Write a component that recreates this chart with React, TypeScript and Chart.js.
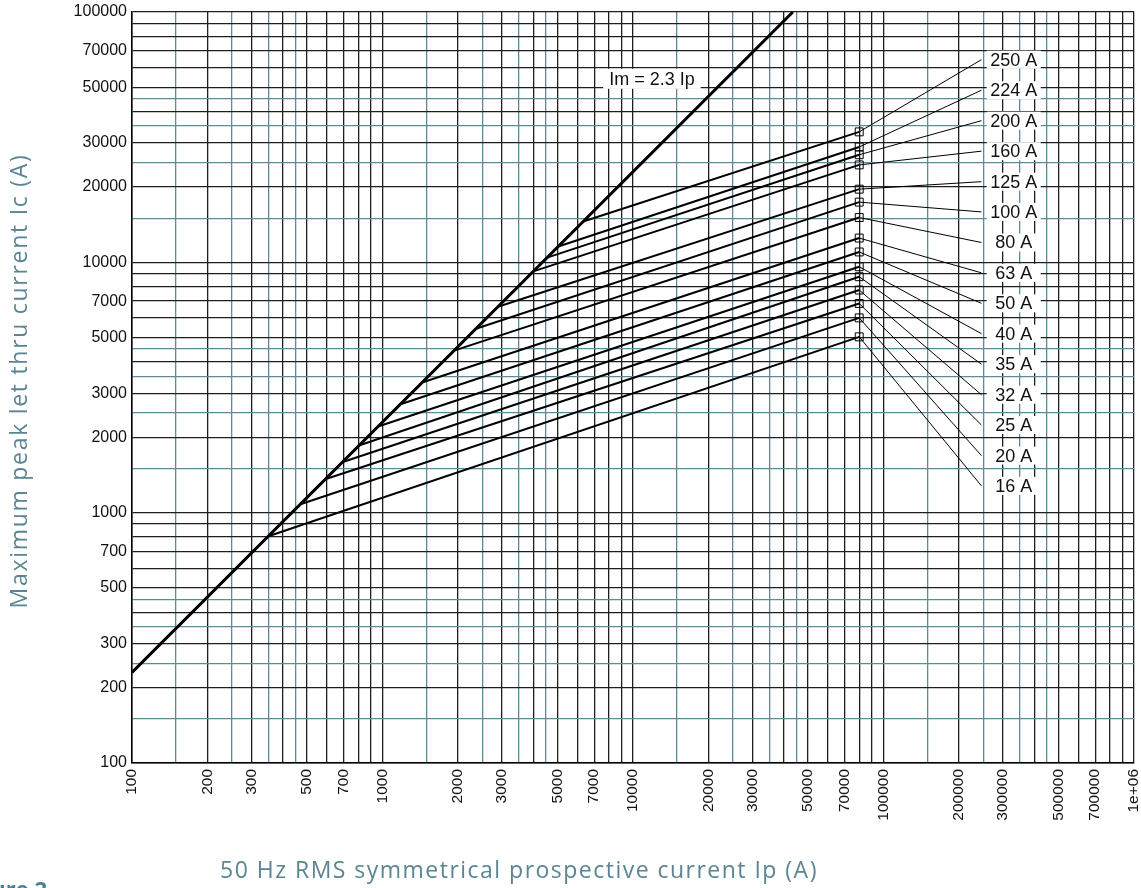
import { useEffect, useRef } from 'react';
import { Chart, registerables } from 'chart.js';

Chart.register(...registerables);

// ---- Data ----
const ratingLabels = ['250 A', '224 A', '200 A', '160 A', '125 A', '100 A', '80 A', '63 A', '50 A', '40 A', '35 A', '32 A', '25 A', '20 A', '16 A'];
// start of each cut-off line, on the Im = 2.3 Ip line
const ratingStartIp = [6330, 5030, 4540, 4000, 2890, 2360, 1930, 1440, 1180, 960, 810, 690, 590, 470, 350];
const ratingStartIc = [14560, 11570, 10440, 9200, 6650, 5430, 4440, 3310, 2710, 2210, 1860, 1590, 1360, 1080, 805];
// end of each cut-off line (square marker)
const ratingEndIp = 80000;
const ratingEndIc = [33200, 28900, 26900, 24500, 19600, 17400, 15100, 12500, 11000, 9600, 8760, 7750, 6850, 6000, 5040];
// label positions (leader-line end and label text)
const leaderEndIp = 246000;
const labelTextIp = 331000;
const labelIc = [64500, 48700, 36800, 27800, 21000, 15900, 12000, 9080, 6860, 5190, 3920, 2960, 2240, 1690, 1280];

// Im = 2.3 Ip limit line
const imLineIp = [100, 43480];
const imLineIc = [230, 100000];
const imLabel = 'Im = 2.3 Ip';
const imLabelIp = 11900;
const imLabelIc = 54100;

// ---- Axes ----
const xDecades = [100, 1000, 10000, 100000];
const yDecades = [100, 1000, 10000];
const blackMultipliers = [1, 2, 3, 4, 5, 6, 7, 8, 9];
const tealMultipliers = [1.5, 2.5, 3.5, 4.5];
const xLabelledTicks = [100, 200, 300, 500, 700, 1000, 2000, 3000, 5000, 7000, 10000, 20000, 30000, 50000, 70000, 100000, 200000, 300000, 500000, 700000, 1000000];
const yLabelledTicks = [100, 200, 300, 500, 700, 1000, 2000, 3000, 5000, 7000, 10000, 20000, 30000, 50000, 70000, 100000];
const xTitle = '50 Hz RMS symmetrical prospective current Ip (A)';
const yTitle = 'Maximum peak let thru current Ic (A)';
const figureText = 'Figure 2';

const TEAL_GRID = '#5e8b95';
const BLACK_GRID = '#1e1e1e';
const TITLE_COLOR = '#5b8594';
const TICK_FONT = '"Liberation Sans", Arial, Helvetica, sans-serif';
const TITLE_FONT = '23px "Open Sans", "Noto Sans", sans-serif';

function buildGrid(decades: number[], top: number) {
  const vals: { v: number; teal: boolean }[] = [];
  decades.forEach((d) => {
    blackMultipliers.forEach((m) => vals.push({ v: m * d, teal: false }));
    tealMultipliers.forEach((m) => vals.push({ v: m * d, teal: true }));
  });
  vals.push({ v: top, teal: false });
  vals.sort((a, b) => a.v - b.v);
  return vals;
}
const xGrid = buildGrid(xDecades, 1000000);
const yGrid = buildGrid(yDecades, 100000);

const near = (a: number, b: number) => Math.abs(a - b) / b < 1e-6;
const isTeal = (grid: { v: number; teal: boolean }[], value: number) =>
  grid.some((g) => g.teal && near(value, g.v));

const overlayPlugin = {
  id: 'overlay',
  afterDatasetsDraw(chart: any) {
    const { ctx, scales } = chart;
    const x = scales.x;
    const y = scales.y;
    ctx.save();
    // Im label
    const ix = x.getPixelForValue(imLabelIp);
    const iy = y.getPixelForValue(imLabelIc);
    ctx.font = '18px ' + TICK_FONT;
    const iw = ctx.measureText(imLabel).width;
    ctx.fillStyle = '#ffffff';
    ctx.fillRect(ix - iw / 2 - 6, iy - 10, iw + 12, 20);
    ctx.fillStyle = '#111111';
    ctx.textAlign = 'center';
    ctx.textBaseline = 'middle';
    ctx.fillText(imLabel, ix, iy + 1);
    // rating labels
    ratingLabels.forEach((t, i) => {
      const px = x.getPixelForValue(labelTextIp);
      const py = y.getPixelForValue(labelIc[i]);
      ctx.fillStyle = '#ffffff';
      ctx.fillRect(px - 27, py - 9, 54, 18);
      ctx.fillStyle = '#111111';
      ctx.fillText(t, px, py + 1);
    });
    ctx.restore();
  },
  afterDraw(chart: any) {
    const { ctx } = chart;
    ctx.save();
    ctx.fillStyle = TITLE_COLOR;
    const fitText = (text: string, target: number, font: string) => {
      ctx.font = font;
      (ctx as any).letterSpacing = '0px';
      const w = ctx.measureText(text).width;
      const sp = Math.max(-1, Math.min(3, (target - w) / text.length));
      (ctx as any).letterSpacing = sp.toFixed(2) + 'px';
    };
    // x title
    fitText(xTitle, 598, TITLE_FONT);
    ctx.textAlign = 'center';
    ctx.textBaseline = 'alphabetic';
    ctx.fillText(xTitle, 519, 878);
    // y title
    fitText(yTitle, 455, TITLE_FONT);
    ctx.save();
    ctx.translate(27, 381);
    ctx.rotate(-Math.PI / 2);
    ctx.fillText(yTitle, 0, 0);
    ctx.restore();
    // cropped figure caption
    (ctx as any).letterSpacing = '0px';
    ctx.font = 'bold 22px "Open Sans", "Noto Sans", sans-serif';
    ctx.fillStyle = '#4f7f8e';
    ctx.textAlign = 'right';
    ctx.fillText(figureText, 47, 897);
    ctx.restore();
  },
};

export default function App() {
  const ref = useRef<HTMLCanvasElement>(null);
  useEffect(() => {
    if (!ref.current) return;
    const datasets: any[] = [];
    datasets.push({
      label: imLabel,
      data: imLineIp.map((v, i) => ({ x: v, y: imLineIc[i] })),
      borderColor: '#000000',
      borderWidth: 3,
      pointRadius: 0,
    });
    ratingLabels.forEach((lab, i) => {
      datasets.push({
        label: lab,
        data: [
          { x: ratingStartIp[i], y: ratingStartIc[i] },
          { x: ratingEndIp, y: ratingEndIc[i] },
        ],
        borderColor: '#000000',
        borderWidth: 2,
        pointRadius: [0, 5.6],
        pointStyle: 'rect',
        pointBorderColor: '#000000',
        pointBackgroundColor: 'rgba(0,0,0,0)',
        pointBorderWidth: 1,
      });
      datasets.push({
        label: lab + ' leader',
        data: [
          { x: ratingEndIp, y: ratingEndIc[i] },
          { x: leaderEndIp, y: labelIc[i] },
        ],
        borderColor: '#000000',
        borderWidth: 1,
        pointRadius: 0,
      });
    });

    const gridColor = (grid: any) => (ctx: any) =>
      ctx.tick && isTeal(grid, ctx.tick.value) ? TEAL_GRID : BLACK_GRID;

    const chart = new Chart(ref.current, {
      type: 'line',
      data: { datasets },
      plugins: [overlayPlugin],
      options: {
        animation: false,
        responsive: true,
        maintainAspectRatio: false,
        devicePixelRatio: 1,
        layout: { padding: { left: 0, top: 12, right: 7, bottom: 0 }, autoPadding: false },
        plugins: { legend: { display: false }, tooltip: { enabled: false }, title: { display: false } },
        elements: { line: { tension: 0 } },
        scales: {
          x: {
            type: 'logarithmic',
            min: 100,
            max: 1000000,
            afterBuildTicks: (scale: any) => {
              scale.ticks = xGrid.map((g) => ({ value: g.v }));
            },
            afterFit: (scale: any) => {
              scale.height = 125;
              scale.paddingLeft = 0;
              scale.paddingRight = 0;
              scale.paddingTop = 0;
              scale.paddingBottom = 0;
            },
            grid: { color: gridColor(xGrid), lineWidth: 1.3, drawTicks: false },
            border: { display: true, color: '#000000', width: 1.5 },
            ticks: {
              autoSkip: false,
              minRotation: 90,
              maxRotation: 90,
              padding: 6,
              color: '#111111',
              font: { family: TICK_FONT, size: 15.5 },
              callback: (value: any) => {
                const v = Number(value);
                if (!xLabelledTicks.some((t) => near(v, t))) return '';
                return near(v, 1000000) ? '1e+06' : String(Math.round(v));
              },
            },
          },
          y: {
            type: 'logarithmic',
            min: 100,
            max: 100000,
            afterBuildTicks: (scale: any) => {
              scale.ticks = yGrid.map((g) => ({ value: g.v }));
            },
            afterFit: (scale: any) => {
              scale.width = 132;
              scale.paddingLeft = 0;
              scale.paddingRight = 0;
              scale.paddingTop = 0;
              scale.paddingBottom = 0;
            },
            grid: { color: gridColor(yGrid), lineWidth: 1.3, drawTicks: false },
            border: { display: true, color: '#000000', width: 1.5 },
            ticks: {
              autoSkip: false,
              padding: 5,
              color: '#111111',
              font: { family: TICK_FONT, size: 16 },
              callback: (value: any) => {
                const v = Number(value);
                if (!yLabelledTicks.some((t) => near(v, t))) return '';
                return String(Math.round(v));
              },
            },
          },
        },
      } as any,
    });
    return () => chart.destroy();
  }, []);

  return (
    <div style={{ position: 'fixed', left: 0, top: 0, width: 1141, height: 888, overflow: 'hidden', background: '#ffffff' }}>
      <canvas ref={ref} />
    </div>
  );
}
